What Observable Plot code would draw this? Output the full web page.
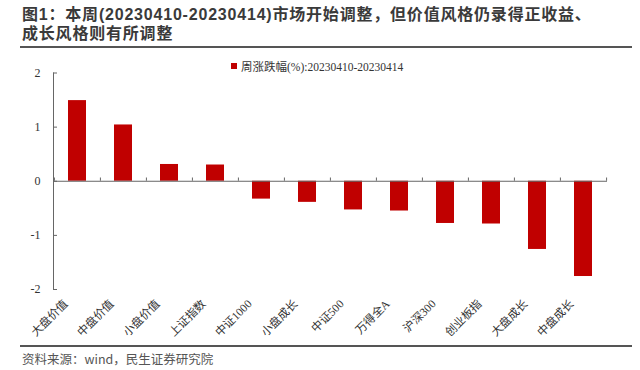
<!DOCTYPE html>
<html>
<head>
<meta charset="utf-8">
<script src="https://cdn.jsdelivr.net/npm/d3@7"></script>
<script src="https://cdn.jsdelivr.net/npm/@observablehq/plot@0.6"></script>
<style>
  body { margin: 0; background: #fff; }
  #wrap { position: relative; width: 640px; height: 370px; overflow: hidden; background: #fff; }
  .tl { position: absolute; left: 22px; height: 19px; white-space: nowrap; font-family: "Liberation Sans", "Noto Sans CJK SC", sans-serif; font-weight: bold; font-size: 16px; letter-spacing: 0.8px; line-height: 19px; color: #3a3a3a; }
  .rule { position: absolute; left: 20px; width: 612px; height: 2px; background: #555; }
  #chart { position: absolute; left: 0; top: 48px; }
  #legend { position: absolute; left: 231px; top: 58px; font-family: "Liberation Serif", "Noto Sans CJK SC", serif; font-size: 11.5px; color: #333; display: flex; align-items: center; }
  #legend span.sw { display: inline-block; width: 6px; height: 6px; background: #C00000; margin-right: 4px; }
  #source { position: absolute; left: 22px; top: 349px; font-family: "Noto Sans CJK SC", sans-serif; font-size: 12.5px; color: #555; }
</style>
</head>
<body>
<div id="wrap">
  <div class="tl" style="top:5px">图1：本周(20230410-20230414)市场开始调整，但价值风格仍录得正收益、</div>
  <div class="tl" style="top:24px">成长风格则有所调整</div>
  <div class="rule" style="top:46px"></div>
  <div id="chart"></div>
  <div id="legend"><span class="sw"></span><span id="legendText"></span></div>
  <div class="rule" style="top:345px"></div>
  <div id="source">资料来源：wind，民生证券研究院</div>
</div>
<script>
const categories = ["大盘价值","中盘价值","小盘价值","上证指数","中证1000","小盘成长","中证500","万得全A","沪深300","创业板指","大盘成长","中盘成长"];
const values = [1.49, 1.04, 0.31, 0.30, -0.33, -0.39, -0.53, -0.55, -0.78, -0.79, -1.26, -1.76];
const yTicks = [-2, -1, 0, 1, 2];
const seriesName = "周涨跌幅(%):20230410-20230414";

document.getElementById("legendText").textContent = seriesName;

const data = categories.map((c, i) => ({category: c, value: values[i]}));
const W = 640, H = 298, mL = 53, mR = 33;
const step = (W - mL - mR) / categories.length;
const serif = "'Liberation Serif', 'Noto Sans CJK SC', serif";

const chart = Plot.plot({
  width: W,
  height: H,
  marginLeft: mL,
  marginRight: mR,
  marginTop: 24.5,
  marginBottom: 57,
  style: {fontFamily: serif, fontSize: "12px", color: "#333", background: "transparent"},
  x: {domain: categories, paddingInner: 0.6, paddingOuter: 0.3, axis: null},
  y: {domain: [-2, 2], ticks: yTicks, axis: null},
  marks: [
    Plot.barY(data, {x: "category", y: "value", fill: "#C00000"}),
    Plot.ruleY([0], {stroke: "#666", strokeWidth: 1}),
    Plot.ruleX(categories, {x: d => d, y1: 0, y2: 0.06, dx: -step / 2, stroke: "#666"}),
    Plot.ruleX(categories.slice(-1), {x: d => d, y1: 0, y2: 0.06, dx: step / 2, stroke: "#666"}),
    Plot.frame({anchor: "left", stroke: "#666"}),
    Plot.tickY(yTicks, {y: d => d, stroke: "#666", insetRight: W - mL - mR - 4}),
    Plot.text(yTicks, {y: d => d, text: d => String(d), frameAnchor: "left", textAnchor: "end", dx: -13, fontSize: 12, fill: "#333"}),
    Plot.text(categories, {x: d => d, text: d => d, frameAnchor: "bottom", rotate: -45, textAnchor: "end", dx: -9, dy: 15, fontSize: 11.5, fill: "#333"})
  ]
});
document.getElementById("chart").appendChild(chart);
</script>
</body>
</html>
